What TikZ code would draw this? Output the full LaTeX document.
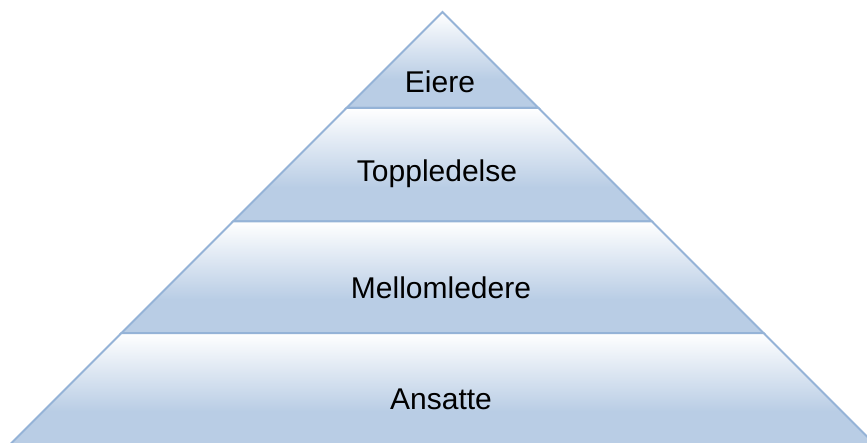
\documentclass[tikz,border=0pt]{standalone}
\usepackage{fontspec}
\setmainfont{Liberation Sans}
\definecolor{layerblue}{HTML}{B9CDE5}
\definecolor{edgeblue}{HTML}{95B3D7}
% white at the top of each layer, blending into blue over the lower part
\pgfdeclareverticalshading{layershade}{100bp}{%
  color(0bp)=(layerblue); color(25bp)=(layerblue); color(40bp)=(layerblue);
  color(75bp)=(white); color(100bp)=(white)}
\begin{document}
\begin{tikzpicture}[x=0.5pt,y=-0.5pt,
  layer/.style={shading=layershade, draw=edgeblue, line width=1pt, line join=miter},
  label/.style={font=\fontsize{15pt}{18pt}\selectfont, text=black, inner sep=0pt}]
\path[use as bounding box, clip] (0,0) rectangle (867,443);
% apex at (442.5,12); the sides fall with slope 1
\coordinate (apex) at (442.5,12);
\coordinate (l1) at (346.5,108);   \coordinate (r1) at (538.5,108);
\coordinate (l2) at (233,221.5);   \coordinate (r2) at (652,221.5);
\coordinate (l3) at (121.5,333);   \coordinate (r3) at (763.5,333);
\coordinate (l4) at (9.5,445);     \coordinate (r4) at (875.5,445);
\path[layer] (apex) -- (r1) -- (l1) -- cycle;
\path[layer] (l1) -- (r1) -- (r2) -- (l2) -- cycle;
\path[layer] (l2) -- (r2) -- (r3) -- (l3) -- cycle;
\path[layer] (l3) -- (r3) -- (r4) -- (l4) -- cycle;
\node[label] (eiere) at (440,82) {Eiere};
\node[label] (topp) at (437,174) {Toppledelse};
\node[label] (mellom) at (441,288) {Mellomledere};
\node[label] (ansatte) at (441,399) {Ansatte};
\end{tikzpicture}
\end{document}
